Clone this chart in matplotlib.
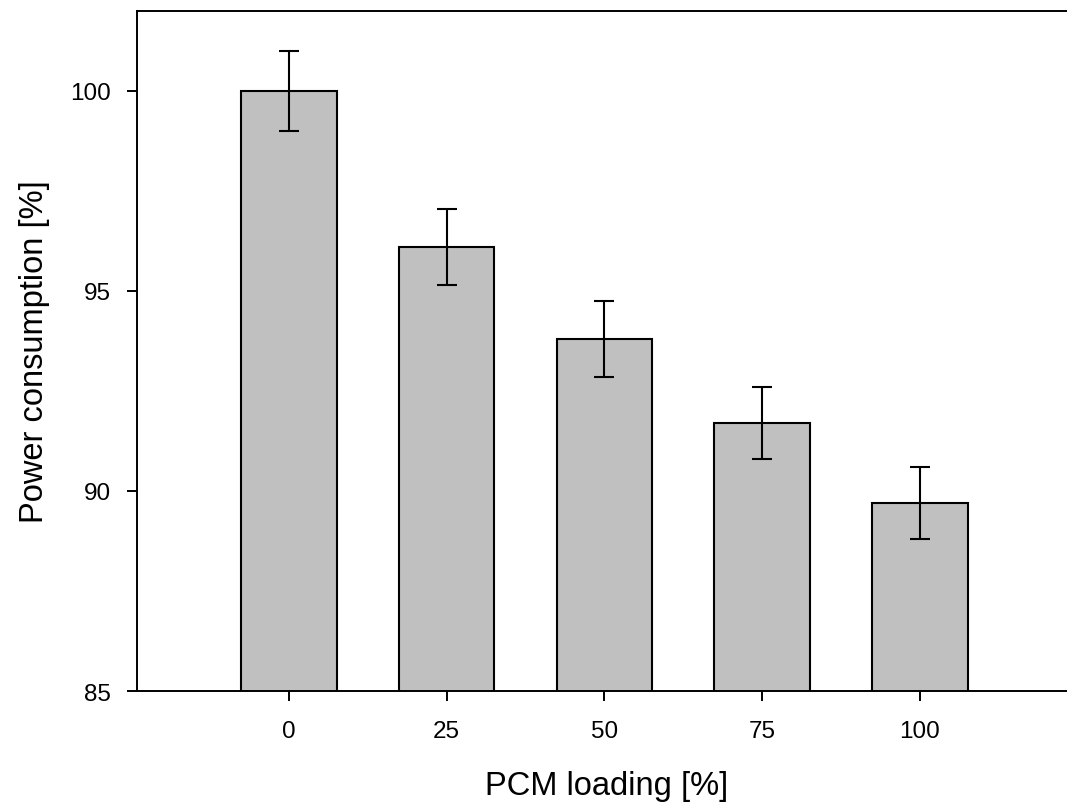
import matplotlib
matplotlib.use("Agg")
import matplotlib.pyplot as plt

plt.rcParams['font.family'] = ['Liberation Sans', 'DejaVu Sans']

# PCM loading vs. power consumption
loading = ['0', '25', '50', '75', '100']
power = [100.0, 96.1, 93.8, 91.7, 89.7]
power_err = [1.0, 0.96, 0.94, 0.91, 0.89]

fig = plt.figure(figsize=(10.67, 8.04), dpi=100)
ax = fig.add_axes([0.1284, 0.1393, 0.88, 0.8458])

x = list(range(len(loading)))
ax.bar(x, power, width=0.605, bottom=0, color='#c0c0c0', edgecolor='black',
       linewidth=1.5, zorder=2)
ax.errorbar(x, power, yerr=power_err, fmt='none', ecolor='black',
            elinewidth=1.5, capsize=7.2, capthick=1.5, zorder=3)

ax.set_ylim(85, 102)
ax.set_xlim(-0.9635, 4.99)
ax.set_yticks([85, 90, 95, 100])
ax.set_xticks(x)
ax.set_xticklabels(loading)

ax.spines['right'].set_visible(False)
for s in ['left', 'bottom', 'top']:
    ax.spines[s].set_linewidth(1.4)

ax.tick_params(axis='both', direction='out', length=7, width=1.4,
               labelsize=17.5)
ax.tick_params(axis='x', pad=14)
ax.tick_params(axis='y', pad=12)

ax.set_xlabel('PCM loading [%]', fontsize=23.5, labelpad=20)
ax.set_ylabel('Power consumption [%]', fontsize=23.5, labelpad=14)

fig.savefig('out.png', dpi=100)
